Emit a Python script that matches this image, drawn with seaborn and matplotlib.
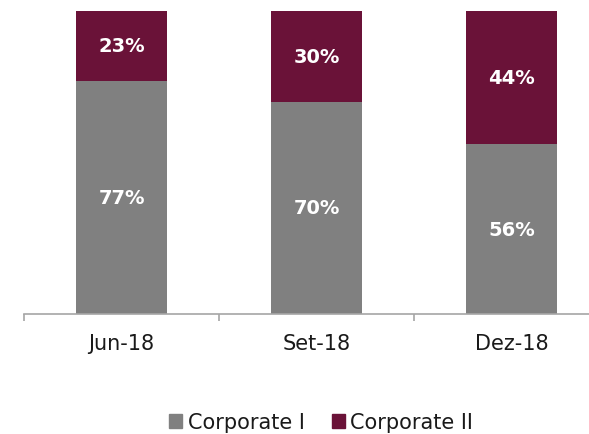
import pandas as pd
import seaborn as sns
import matplotlib.pyplot as plt
from matplotlib.patches import Patch

# data
periods = ['Jun-18', 'Set-18', 'Dez-18']
corp_1 = [77, 70, 56]
corp_2 = [23, 30, 44]

grey = '#808080'
maroon = '#6A1238'

df = pd.DataFrame({'period': periods, 'corp_1': corp_1, 'corp_2': corp_2})
df['total'] = df['corp_1'] + df['corp_2']

sns.set_style('white')
plt.rcParams['font.family'] = ['DejaVu Sans']

fig = plt.figure(figsize=(5.89, 4.35), dpi=100)
ax = fig.add_axes([24 / 589, 120 / 435, 585 / 589, 303 / 435])

# stacked: draw total in maroon, then the lower part in grey on top
sns.barplot(data=df, x='period', y='total', color=maroon, width=0.47,
            saturation=1, linewidth=0, ax=ax)
sns.barplot(data=df, x='period', y='corp_1', color=grey, width=0.47,
            saturation=1, linewidth=0, ax=ax)

for i, row in df.iterrows():
    ax.text(i, row['corp_1'] / 2, f"{row['corp_1']}%", ha='center', va='center',
            color='white', fontsize=14, fontweight='bold')
    ax.text(i, row['corp_1'] + row['corp_2'] / 2, f"{row['corp_2']}%",
            ha='center', va='center', color='white', fontsize=14, fontweight='bold')

ax.set_xlim(-0.5, 2.5)
ax.set_ylim(0, 100)
ax.set_xlabel('')
ax.set_ylabel('')
ax.set_yticks([])
for s in ['top', 'right', 'left']:
    ax.spines[s].set_visible(False)
ax.spines['bottom'].set_color('#A6A6A6')
ax.spines['bottom'].set_linewidth(1.2)

ax.set_xticks([0, 1, 2])
ax.set_xticklabels(periods, fontsize=15, color='#1a1a1a')
ax.tick_params(axis='x', length=0, pad=14)
# boundary ticks between categories
ax.set_xticks([-0.5, 0.5, 1.5, 2.5], minor=True)
ax.tick_params(axis='x', which='minor', length=5, width=1.2, color='#A6A6A6',
               direction='out', bottom=True)

handles = [Patch(color=grey, label='Corporate I'), Patch(color=maroon, label='Corporate II')]
leg = fig.legend(handles=handles, loc='center', bbox_to_anchor=(0.545, 12 / 435),
                 ncol=2, frameon=False, fontsize=15, handlelength=0.65, handleheight=0.65,
                 handletextpad=0.25, columnspacing=1.3)
for t in leg.get_texts():
    t.set_color('#1a1a1a')

fig.savefig('out.png', dpi=100)
